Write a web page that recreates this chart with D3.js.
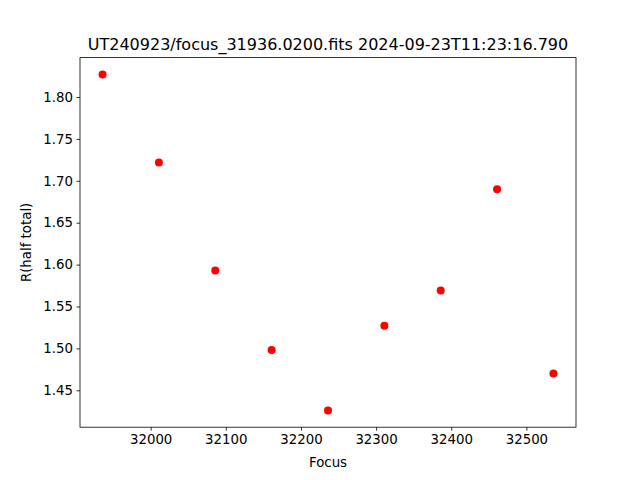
<html>
<head>
<script src="https://d3js.org/d3.v7.min.js"></script>
<style>
  body { margin: 0; background: white; }
  text { font-family: "DejaVu Sans", sans-serif; fill: black; }
</style>
</head>
<body>
<svg id="plot" width="640" height="480"></svg>
<script>
// focus positions and measured half-total radius
const focusVals = [31936, 32011, 32086, 32161, 32236, 32311, 32386, 32461, 32536];
const radiusVals = [1.827, 1.722, 1.593, 1.498, 1.426, 1.527, 1.569, 1.690, 1.470];
const xTicks = [32000, 32100, 32200, 32300, 32400, 32500];
const yTicks = [1.45, 1.50, 1.55, 1.60, 1.65, 1.70, 1.75, 1.80];
const titleText = "UT240923/focus_31936.0200.fits 2024-09-23T11:23:16.790";

const svg = d3.select("#plot");
const margin = { top: 57.6, right: 64, bottom: 52.8, left: 80 };
const width = +svg.attr("width");
const height = +svg.attr("height");

// matplotlib-like 5% padding around the data
const xMin = d3.min(focusVals), xMax = d3.max(focusVals);
const yMin = d3.min(radiusVals), yMax = d3.max(radiusVals);
const xPad = (xMax - xMin) * 0.05, yPad = (yMax - yMin) * 0.05;

const x = d3.scaleLinear().domain([xMin - xPad, xMax + xPad]).range([margin.left, width - margin.right]);
const y = d3.scaleLinear().domain([yMin - yPad, yMax + yPad]).range([height - margin.bottom, margin.top]);

const xAxis = d3.axisBottom(x).tickValues(xTicks).tickFormat(d3.format("d")).tickSizeOuter(0).tickSize(3.5).tickPadding(3.5);
const yAxis = d3.axisLeft(y).tickValues(yTicks).tickFormat(d3.format(".2f")).tickSizeOuter(0).tickSize(3.5).tickPadding(3.5);

const gx = svg.append("g").attr("transform", `translate(0,${height - margin.bottom})`).call(xAxis);
const gy = svg.append("g").attr("transform", `translate(${margin.left},0)`).call(yAxis);
[gx, gy].forEach(g => {
  g.select(".domain").remove();
  g.selectAll("text").attr("font-size", "13.33px").attr("font-family", "DejaVu Sans, sans-serif").attr("fill", "black");
  g.selectAll("line").attr("stroke", "black").attr("stroke-width", 0.8);
});

// axes frame
svg.append("rect")
  .attr("x", margin.left).attr("y", margin.top)
  .attr("width", width - margin.left - margin.right)
  .attr("height", height - margin.top - margin.bottom)
  .attr("fill", "none").attr("stroke", "black").attr("stroke-width", 0.8);

svg.selectAll("circle.pt").data(focusVals.map((f, i) => [f, radiusVals[i]]))
  .join("circle")
  .attr("class", "pt")
  .attr("cx", d => x(d[0]))
  .attr("cy", d => y(d[1]))
  .attr("r", 4)
  .attr("fill", "red");

svg.append("text")
  .attr("x", (margin.left + width - margin.right) / 2)
  .attr("y", margin.top - 8)
  .attr("text-anchor", "middle")
  .attr("font-size", "16px")
  .text(titleText);

svg.append("text")
  .attr("x", (margin.left + width - margin.right) / 2)
  .attr("y", 467)
  .attr("text-anchor", "middle")
  .attr("font-size", "13.33px")
  .text("Focus");

svg.append("text")
  .attr("transform", `translate(31,${(margin.top + height - margin.bottom) / 2}) rotate(-90)`)
  .attr("text-anchor", "middle")
  .attr("font-size", "13.33px")
  .text("R(half total)");
</script>
</body>
</html>
